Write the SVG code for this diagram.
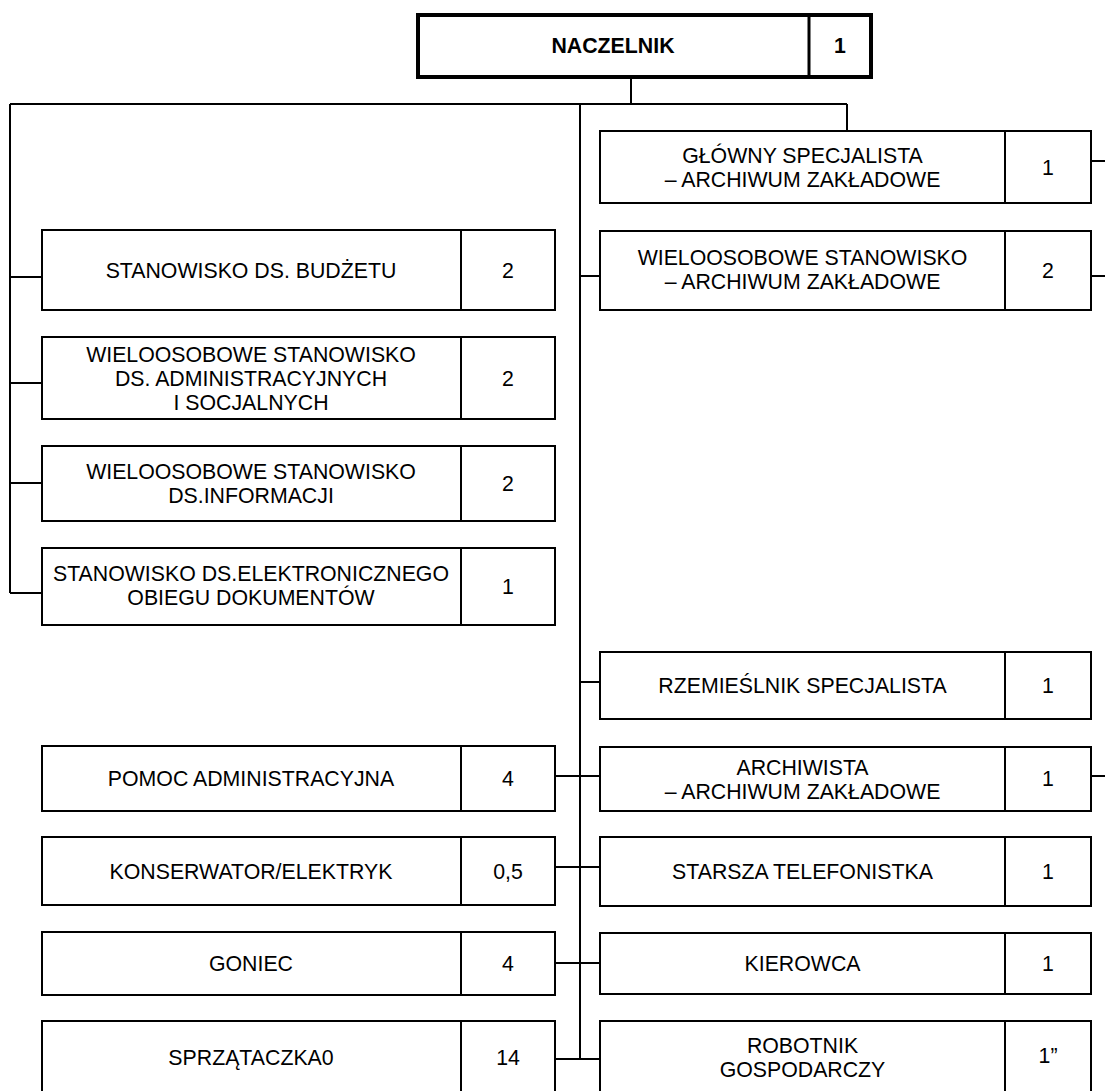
<svg xmlns="http://www.w3.org/2000/svg" width="1105" height="1091" viewBox="0 0 1105 1091">
<style>
.box{fill:#fff;stroke:#000;stroke-width:2}
.div{stroke:#000;stroke-width:2}
.top{fill:#fff;stroke:#000;stroke-width:4}
.topdiv{stroke:#000;stroke-width:3}
.c{fill:none;stroke:#000;stroke-width:2}
text{font-family:"Liberation Sans",Arial,sans-serif;font-size:21.3px;fill:#000;text-anchor:middle}
.b{font-weight:bold}
</style>
<rect width="1105" height="1091" fill="#fff"/>
<g id="connectors">
<path class="c" d="M631,77V104M10,104H847M847,104V131M580,104V1059M10,104V593"/>
<path class="c" d="M10,277H42M10,383H42M10,483H42M10,593H42"/>
<path class="c" d="M580,276H600M580,682H600M555,776H600M555,867H600M555,963H600M555,1059H600"/>
<path class="c" d="M1091,161H1105M1091,276H1105M1091,776H1105"/>
</g>
<g id="naczelnik">
<rect class="top" x="418" y="15" width="453" height="62"/>
<line class="topdiv" x1="809" y1="15" x2="809" y2="77"/>
<text class="b" x="613" y="53">NACZELNIK</text>
<text class="b" x="840" y="53">1</text>
</g>
<g id="l1">
<rect class="box" x="42" y="230" width="513" height="80"/>
<line class="div" x1="461" y1="230" x2="461" y2="310"/>
<text x="251" y="278">STANOWISKO DS. BUDŻETU</text>
<text x="508" y="278">2</text>
</g>
<g id="l2">
<rect class="box" x="42" y="337" width="513" height="82"/>
<line class="div" x1="461" y1="337" x2="461" y2="419"/>
<text x="251" y="361.5">WIELOOSOBOWE STANOWISKO</text>
<text x="251" y="385.5">DS. ADMINISTRACYJNYCH</text>
<text x="251" y="409.5">I SOCJALNYCH</text>
<text x="508" y="385.5">2</text>
</g>
<g id="l3">
<rect class="box" x="42" y="446" width="513" height="75"/>
<line class="div" x1="461" y1="446" x2="461" y2="521"/>
<text x="251" y="479">WIELOOSOBOWE STANOWISKO</text>
<text x="251" y="503">DS.INFORMACJI</text>
<text x="508" y="491">2</text>
</g>
<g id="l4">
<rect class="box" x="42" y="548" width="513" height="77"/>
<line class="div" x1="461" y1="548" x2="461" y2="625"/>
<text x="251" y="581">STANOWISKO DS.ELEKTRONICZNEGO</text>
<text x="251" y="605">OBIEGU DOKUMENTÓW</text>
<text x="508" y="594">1</text>
</g>
<g id="l5">
<rect class="box" x="42" y="746" width="513" height="65"/>
<line class="div" x1="461" y1="746" x2="461" y2="811"/>
<text x="251" y="786">POMOC ADMINISTRACYJNA</text>
<text x="508" y="786">4</text>
</g>
<g id="l6">
<rect class="box" x="42" y="837" width="513" height="68"/>
<line class="div" x1="461" y1="837" x2="461" y2="905"/>
<text x="251" y="879">KONSERWATOR/ELEKTRYK</text>
<text x="508" y="879">0,5</text>
</g>
<g id="l7">
<rect class="box" x="42" y="932" width="513" height="63"/>
<line class="div" x1="461" y1="932" x2="461" y2="995"/>
<text x="251" y="971">GONIEC</text>
<text x="508" y="971">4</text>
</g>
<g id="l8">
<rect class="box" x="42" y="1021" width="513" height="80"/>
<line class="div" x1="461" y1="1021" x2="461" y2="1101"/>
<text x="251" y="1065">SPRZĄTACZKA0</text>
<text x="508" y="1065">14</text>
</g>
<g id="r1">
<rect class="box" x="600" y="131" width="491" height="72"/>
<line class="div" x1="1005" y1="131" x2="1005" y2="203"/>
<text x="802.5" y="163">GŁÓWNY SPECJALISTA</text>
<text x="802.5" y="186.5">– ARCHIWUM ZAKŁADOWE</text>
<text x="1048" y="175">1</text>
</g>
<g id="r2">
<rect class="box" x="600" y="231" width="491" height="79"/>
<line class="div" x1="1005" y1="231" x2="1005" y2="310"/>
<text x="802.5" y="264.5">WIELOOSOBOWE STANOWISKO</text>
<text x="802.5" y="288.5">– ARCHIWUM ZAKŁADOWE</text>
<text x="1048" y="278">2</text>
</g>
<g id="r3">
<rect class="box" x="600" y="652" width="491" height="67"/>
<line class="div" x1="1005" y1="652" x2="1005" y2="719"/>
<text x="802.5" y="693">RZEMIEŚLNIK SPECJALISTA</text>
<text x="1048" y="693">1</text>
</g>
<g id="r4">
<rect class="box" x="600" y="747" width="491" height="64"/>
<line class="div" x1="1005" y1="747" x2="1005" y2="811"/>
<text x="802.5" y="774.5">ARCHIWISTA</text>
<text x="802.5" y="798.5">– ARCHIWUM ZAKŁADOWE</text>
<text x="1048" y="786">1</text>
</g>
<g id="r5">
<rect class="box" x="600" y="837" width="491" height="69"/>
<line class="div" x1="1005" y1="837" x2="1005" y2="906"/>
<text x="802.5" y="879">STARSZA TELEFONISTKA</text>
<text x="1048" y="879">1</text>
</g>
<g id="r6">
<rect class="box" x="600" y="933" width="491" height="61"/>
<line class="div" x1="1005" y1="933" x2="1005" y2="994"/>
<text x="802.5" y="971">KIEROWCA</text>
<text x="1048" y="971">1</text>
</g>
<g id="r7">
<rect class="box" x="600" y="1021" width="491" height="80"/>
<line class="div" x1="1005" y1="1021" x2="1005" y2="1101"/>
<text x="802.5" y="1053">ROBOTNIK</text>
<text x="802.5" y="1077">GOSPODARCZY</text>
<text x="1048" y="1063">1”</text>
</g>
</svg>
